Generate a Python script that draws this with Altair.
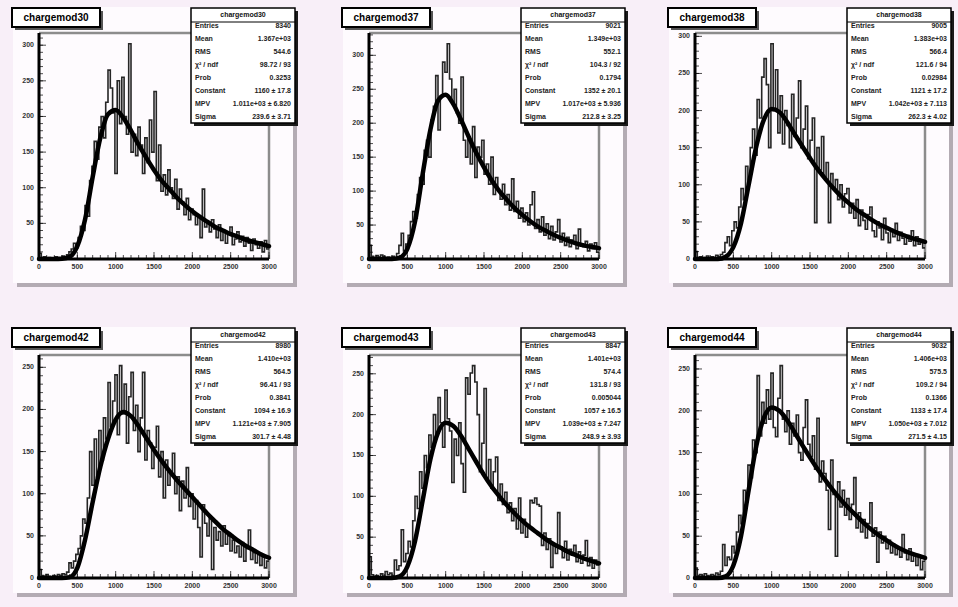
import altair as alt
import numpy as np
import pandas as pd

FONT = "Liberation Sans"
BG = "#f8eff8"
PAD_FILL = "#fefbfe"

names = ["chargemod30", "chargemod37", "chargemod38", "chargemod42", "chargemod43", "chargemod44"]

X_MAX = 3000
BIN_W = 30

hist_30 = [8, 2, 3, 1, 2, 0, 1, 3, 2, 1,
           4, 2, 6, 10, 14, 22, 16, 30, 46, 40,
           75, 60, 110, 130, 165, 140, 185, 200, 170, 220,
           265, 240, 205, 120, 250, 190, 255, 200, 175, 302,
           150, 175, 145, 185, 160, 120, 170, 135, 195, 150,
           235, 110, 160, 95, 118, 90, 125, 100, 85, 112,
           70, 98, 80, 62, 85, 55, 70, 62, 48, 60,
           30, 98, 45, 50, 38, 55, 42, 30, 48, 26,
           40, 22, 35, 45, 20, 28, 38, 24, 32, 18,
           30, 22, 12, 28, 20, 15, 24, 10, 26, 14]
hist_37 = [20, 4, 2, 5, 3, 6, 4, 2, 3, 1,
           4, 2, 8, 20, 38, 12, 22, 35, 55, 70,
           60, 95, 120, 110, 160, 175, 150, 205, 225, 270,
           190, 240, 290, 275, 317, 265, 230, 250, 215, 200,
           268, 175, 150, 180, 140, 195, 120, 165, 150, 175,
           125, 140, 110, 150, 95, 120, 100, 88, 110, 80,
           95, 72, 118, 70, 85, 60, 75, 55, 68, 50,
           80, 99, 45, 58, 40, 62, 35, 52, 30, 48,
           28, 40, 58, 25, 38, 20, 32, 18, 28, 35,
           15, 44, 22, 18, 26, 12, 22, 15, 24, 10]
hist_38 = [10, 2, 3, 1, 2, 4, 1, 3, 2, 5,
           3, 6, 9, 22, 30, 18, 38, 50, 42, 70,
           95, 80, 125, 105, 150, 175, 140, 215, 190, 245,
           270, 235, 150, 290, 200, 255, 170, 220, 155, 200,
           180, 150, 222, 165, 190, 240, 150, 175, 206, 135,
           160, 190, 49, 150, 120, 165, 110, 130, 49, 115,
           95, 107, 80, 100, 70, 88, 95, 62, 75, 55,
           80, 45, 66, 52, 40, 60, 70, 38, 30, 50,
           42, 26, 55, 35, 22, 40, 30, 48, 25, 36,
           28, 20, 32, 24, 38, 18, 30, 20, 26, 15]
hist_42 = [10, 3, 2, 4, 2, 1, 3, 2, 4, 3,
           5, 4, 7, 18, 12, 20, 28, 35, 50, 70,
           65, 95, 150, 110, 165, 120, 175, 140, 190, 165,
           232, 180, 210, 241, 170, 252, 195, 230, 160, 215,
           244, 175, 205, 150, 190, 244, 140, 175, 160, 130,
           155, 180, 120, 150, 95, 140, 110, 125, 148, 100,
           120, 80, 115, 95, 131, 85, 100, 70, 92, 60,
           25, 87, 65, 50, 72, 10, 60, 45, 55, 38,
           62, 40, 50, 32, 45, 30, 38, 25, 42, 20,
           35, 57, 22, 30, 18, 28, 15, 25, 12, 20]
hist_43 = [26, 4, 2, 3, 1, 5, 2, 8, 4, 6,
           3, 22, 10, 15, 59, 20, 30, 45, 38, 70,
           100, 85, 130, 110, 150, 135, 175, 160, 200, 175,
           221, 190, 160, 230, 195, 180, 117, 170, 150, 190,
           140, 105, 245, 225, 251, 260, 240, 200, 130, 165,
           232, 120, 145, 110, 130, 148, 95, 115, 90, 105,
           80, 92, 70, 85, 60, 98, 55, 72, 50, 65,
           95, 92, 98, 90, 88, 40, 55, 35, 48, 13,
           42, 30, 80, 38, 25, 45, 22, 35, 28, 40,
           20, 32, 18, 28, 46, 15, 25, 12, 22, 16]
hist_44 = [12, 3, 4, 2, 5, 3, 2, 4, 3, 6,
           4, 8, 40, 15, 25, 22, 38, 30, 55, 75,
           65, 105, 95, 135, 120, 165, 150, 242, 170, 210,
           185, 225, 190, 245, 180, 169, 215, 254, 190, 175,
           200, 160, 185, 170, 195, 150, 141, 180, 213, 160,
           145, 170, 130, 191, 115, 140, 125, 105, 58, 141,
           100, 26, 115, 85, 105, 75, 95, 70, 88, 120,
           60, 78, 55, 70, 48, 65, 90, 50, 60, 19,
           55, 42, 50, 35, 45, 30, 40, 28, 36, 25,
           52, 30, 22, 35, 20, 28, 15, 25, 10, 20]

fit_x = [0, 100, 200, 300, 400, 500, 600, 700, 800, 900, 1000,
         1100, 1200, 1300, 1400, 1500, 1600, 1700, 1800, 1900, 2000,
         2100, 2200, 2300, 2400, 2500, 2600, 2700, 2800, 2900, 3000]
fit_30 = [0, 0, 0, 0.5, 3, 18, 55, 115, 170, 203, 209,
          198, 180, 160, 142, 125, 110, 98, 86, 76, 67, 59, 52, 45, 40, 35, 31, 27, 24, 21, 18]
fit_37 = [0, 0, 0, 0, 2, 15, 55, 125, 190, 233, 242,
          228, 205, 180, 156, 135, 116, 100, 87, 75, 65, 56, 48, 42, 36, 31, 27, 23, 20, 18, 16]
fit_38 = [0, 0, 0, 0, 3, 16, 48, 100, 152, 188, 202,
          198, 185, 168, 152, 136, 121, 108, 96, 85, 76, 67, 60, 53, 47, 42, 37, 33, 29, 26, 23]
fit_42 = [0, 0, 0, 0, 1, 12, 45, 90, 132, 165, 188,
          197, 192, 180, 166, 152, 139, 127, 116, 106, 96, 86, 76, 67, 58, 51, 44, 38, 33, 28, 24]
fit_43 = [0, 0, 0, 0, 2, 14, 45, 95, 145, 178, 190,
          186, 174, 158, 142, 126, 112, 100, 89, 79, 70, 62, 55, 48, 42, 37, 32, 28, 24, 21, 18]
fit_44 = [0, 0, 0, 0, 2, 15, 50, 105, 158, 192, 204,
          200, 189, 174, 159, 144, 130, 117, 105, 94, 84, 75, 66, 58, 51, 45, 39, 34, 30, 27, 24]

stat_labels = ["Entries", "Mean", "RMS", "\u03c7\u00b2 / ndf", "Prob", "Constant", "MPV", "Sigma"]
stat_chi = ["98.72 / 93", "104.3 / 92", "121.6 / 94", "96.41 / 93", "131.8 / 93", "109.2 / 94"]
stat_prob = ["0.3253", "0.1794", "0.02984", "0.3841", "0.005044", "0.1366"]
stat_const = ["1160 \u00b1 17.8", "1352 \u00b1 20.1", "1121 \u00b1 17.2", "1094 \u00b1 16.9", "1057 \u00b1 16.5", "1133 \u00b1 17.4"]
stat_mpv = ["1.011e+03 \u00b1 6.820", "1.017e+03 \u00b1 5.936", "1.042e+03 \u00b1 7.113",
            "1.121e+03 \u00b1 7.905", "1.039e+03 \u00b1 7.247", "1.050e+03 \u00b1 7.012"]
stat_sigma = ["239.6 \u00b1 3.71", "212.8 \u00b1 3.25", "262.3 \u00b1 4.02", "301.7 \u00b1 4.48", "248.9 \u00b1 3.93", "271.5 \u00b1 4.15"]

x_tick_values = [0, 500, 1000, 1500, 2000, 2500, 3000]
x_tick_labels = ["0", "500", "1000", "1500", "2000", "2500", "3000"]

hists = [hist_30, hist_37, hist_38, hist_42, hist_43, hist_44]
fits = [fit_30, fit_37, fit_38, fit_42, fit_43, fit_44]

# layout (pixels)
frame_left = [39, 369, 695, 39, 369, 695]
frame_top = [33, 33, 33, 355, 355, 355]
frame_bot = [259, 259, 259, 578, 578, 578]
pad_top = [7, 7, 7, 327, 327, 327]
pad_bot = [283, 283, 283, 593, 593, 593]
FRAME_W = 230

one = pd.DataFrame({"k": [0]})


def vrect(x0, x1, y0, y1, fill, stroke=None, sw=0):
    kw = dict(fill=fill)
    if stroke:
        kw.update(stroke=stroke, strokeWidth=sw)
    else:
        kw.update(strokeWidth=0)
    return alt.Chart(one).mark_rect(**kw).encode(
        x=alt.value(x0), x2=alt.value(x1), y=alt.value(y0), y2=alt.value(y1))


def vrule(x0, x1, y0, y1, color, sw):
    return alt.Chart(one).mark_rule(color=color, strokeWidth=sw).encode(
        x=alt.value(x0), x2=alt.value(x1), y=alt.value(y0), y2=alt.value(y1))


def vtext(x, y, s, size, weight="normal", align="left", color="#111111"):
    return alt.Chart(one).mark_text(text=s, fontSize=size, font=FONT, fontWeight=weight,
                                    align=align, baseline="middle", color=color).encode(
        x=alt.value(x), y=alt.value(y))


edges = [BIN_W * k for k in range(len(hist_30))]


def panel(i):
    h = hists[i]
    f = fits[i]
    fl = frame_left[i]
    fr = fl + FRAME_W
    ft = frame_top[i]
    fb = frame_bot[i]
    ymax = 1.05 * max(h)
    xs = alt.Scale(domain=[0, X_MAX], range=[fl, fr], nice=False, zero=False)
    ys = alt.Scale(domain=[0, ymax], range=[fb, ft], nice=False, zero=False)

    def X(field):
        return alt.X(field, type="quantitative", scale=xs, axis=None)

    def Y(field):
        return alt.Y(field, type="quantitative", scale=ys, axis=None)

    hist_df = pd.DataFrame({"x": edges + [X_MAX], "y": h + [h[-1]]})
    hist = alt.Chart(hist_df).mark_line(interpolate="step-after", color="#262626",
                                        strokeWidth=1.6).encode(x=X("x"), y=Y("y"))
    fit_df = pd.DataFrame({"x": fit_x, "y": f})
    fit = alt.Chart(fit_df).mark_line(interpolate="monotone", color="black", strokeWidth=4.5,
                                      strokeCap="round", strokeJoin="round").encode(x=X("x"), y=Y("y"))
    frame_df = pd.DataFrame({"x": [0, X_MAX], "y": [ymax, 0], "x2": [X_MAX, X_MAX], "y2": [ymax, ymax]})
    frame = alt.Chart(frame_df).mark_rule(color="#8c8c8c", strokeWidth=2.5).encode(
        x=X("x"), y=Y("y"), x2=alt.X2("x2"), y2=alt.Y2("y2"))
    axes_df = pd.DataFrame({"x": [0, 0], "y": [0, 0], "x2": [X_MAX, 0], "y2": [0, ymax]})
    axes = alt.Chart(axes_df).mark_rule(color="black", strokeWidth=3).encode(
        x=X("x"), y=Y("y"), x2=alt.X2("x2"), y2=alt.Y2("y2"))

    xmaj = pd.DataFrame({"x": x_tick_values, "y": [0] * len(x_tick_values), "t": x_tick_labels})
    xmin = pd.DataFrame({"x": list(range(0, X_MAX + 1, 100)), "y": 0})
    ymaj_vals = list(range(0, int(ymax) + 1, 50))
    ymaj = pd.DataFrame({"x": 0, "y": ymaj_vals, "t": [str(v) for v in ymaj_vals]})
    ymin = pd.DataFrame({"x": 0, "y": list(range(0, int(ymax) + 1, 10))})

    xt_major = alt.Chart(xmaj).mark_tick(orient="vertical", size=7, thickness=1, color="black",
                                         yOffset=-3.5).encode(x=X("x"), y=Y("y"))
    xt_minor = alt.Chart(xmin).mark_tick(orient="vertical", size=4, thickness=1, color="black",
                                         yOffset=-2).encode(x=X("x"), y=Y("y"))
    yt_major = alt.Chart(ymaj).mark_tick(orient="horizontal", size=7, thickness=1, color="black",
                                         xOffset=3.5).encode(x=X("x"), y=Y("y"))
    yt_minor = alt.Chart(ymin).mark_tick(orient="horizontal", size=4, thickness=1, color="black",
                                         xOffset=2).encode(x=X("x"), y=Y("y"))
    xlab = alt.Chart(xmaj).mark_text(fontSize=7, font=FONT, fontWeight="bold", color="#333333",
                                     baseline="top", dy=4).encode(x=X("x"), y=Y("y"), text="t:N")
    ylab = alt.Chart(ymaj).mark_text(fontSize=7, font=FONT, fontWeight="bold", color="#333333",
                                     align="right", baseline="middle", dx=-5).encode(
        x=X("x"), y=Y("y"), text="t:N")
    return alt.layer(frame, hist, fit, axes, xt_major, xt_minor, yt_major, yt_minor, xlab, ylab)


def decorations_bg(i):
    fl = frame_left[i]
    px0, px1 = fl - 26, fl + 254
    py0, py1 = pad_top[i], pad_bot[i]
    return [vrect(px0 + 4, px1 + 4, py0 + 4, py1 + 4, "#b3abb3"),
            vrect(px0, px1, py0, py1, PAD_FILL)]


def decorations_fg(i):
    fl = frame_left[i]
    py0 = pad_top[i]
    h = np.array(hists[i], dtype=float)
    centers = np.array(edges) + BIN_W / 2
    n = h.sum()
    mean = (centers * h).sum() / n
    rms = np.sqrt(((centers - mean) ** 2 * h).sum() / n)
    values = [str(int(n)), "%.3e" % mean, "%.1f" % rms, stat_chi[i], stat_prob[i],
              stat_const[i], stat_mpv[i], stat_sigma[i]]
    out = []
    # title box
    tx0, tx1, ty0, ty1 = fl - 27, fl + 61, py0 + 1, py0 + 20
    out.append(vrect(tx0 + 3, tx1 + 3, ty0 + 3, ty1 + 3, "#555555"))
    out.append(vrect(tx0, tx1, ty0, ty1, "white", "black", 2))
    out.append(vtext((tx0 + tx1) / 2, (ty0 + ty1) / 2 + 0.5, names[i], 10, "bold", "center", "black"))
    # stats box
    sx0, sx1, sy0, sy1 = fl + 152, fl + 256, py0 + 1, py0 + 116
    out.append(vrect(sx0 + 3, sx1 + 3, sy0 + 3, sy1 + 3, "#1a1a1a"))
    out.append(vrect(sx0, sx1, sy0, sy1, "white", "black", 1.5))
    out.append(vrule(sx0, sx1, sy0 + 14, sy0 + 14, "black", 1))
    out.append(vtext((sx0 + sx1) / 2, sy0 + 7, names[i], 7, "bold", "center"))
    for k, (lab, val) in enumerate(zip(stat_labels, values)):
        yy = sy0 + 17.5 + 13.0 * k
        out.append(vtext(sx0 + 4, yy, lab, 7, "bold", "left", "#222222"))
        out.append(vtext(sx1 - 4, yy, val, 7, "bold", "right", "#222222"))
    return out


layers = []
for i in range(6):
    layers += decorations_bg(i)
for i in range(6):
    layers.append(panel(i))
for i in range(6):
    layers += decorations_fg(i)

chart = alt.layer(*layers).resolve_scale(x="independent", y="independent").properties(
    width=958, height=607, autosize=alt.AutoSizeParams(type="none"), padding=0
).configure(background=BG).configure_view(strokeWidth=0)

chart.save("out.html", embed_options={"renderer": "svg", "actions": False})
